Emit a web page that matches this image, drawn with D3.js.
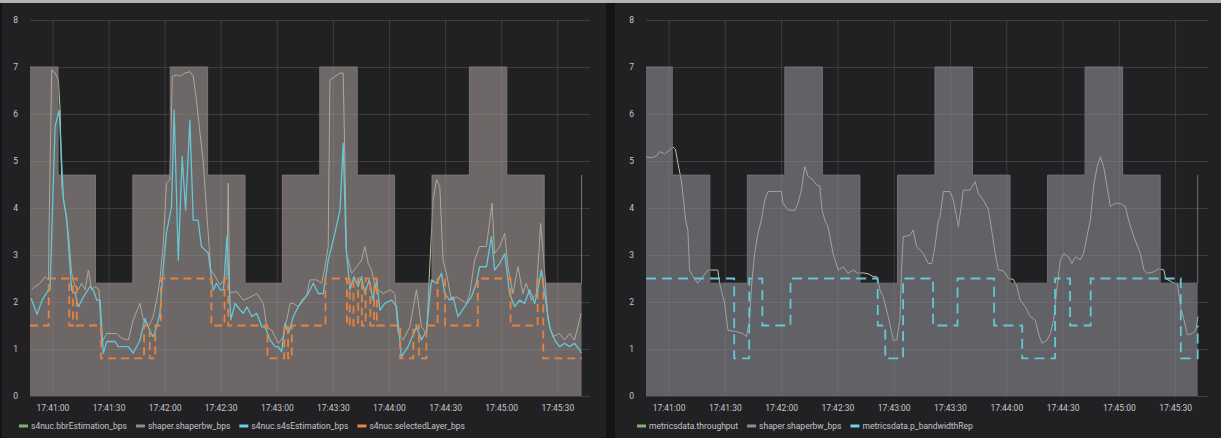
<!DOCTYPE html>
<html>
<head>
<meta charset="utf-8">
<script src="https://cdn.jsdelivr.net/npm/d3@7"></script>
<style>
body { margin: 0; background: #141416; }
svg text { font-family: Roboto, "DejaVu Sans", sans-serif; }
</style>
</head>
<body>
<svg id="chart"></svg>
<script>
// times are seconds after 17:41:00
var tickLabels = ["17:41:00", "17:41:30", "17:42:00", "17:42:30", "17:43:00",
                  "17:43:30", "17:44:00", "17:44:30", "17:45:00", "17:45:30"];
var yTicks = [0, 1, 2, 3, 4, 5, 6, 7, 8];

// left panel
var shaperLeftT = [-12, 3, 23, 43, 63, 83, 103, 123, 143, 163, 183, 203, 223, 243, 263, 283];
var shaperLeftV = [7, 4.7, 2.4, 4.7, 7, 4.7, 2.4, 4.7, 7, 4.7, 2.4, 4.7, 7, 4.7, 2.4, 4.7];

var bbrT = [-11.1,-9.2,-6.6,-3.9,-2.1,-1.8,-0.4,1.4,3.2,4.1,
    5.0,6.8,8.5,10.3,12.1,13.9,15.6,17.5,19.2,21.0,
    22.8,24.9,26.3,29.0,31.7,34.3,37.0,40.6,43.2,46.8,
    48.6,51.3,53.9,55.7,57.5,59.3,61.0,62.8,64.1,66.4,
    68.2,70.8,73.5,75.3,77.0,78.9,80.6,82.4,84.7,86.1,
    89.7,93.3,94.0,94.8,98.6,102.1,105.7,109.3,112.8,114.6,
    117.3,120.8,123.5,127.1,128.8,131.5,133.3,136.0,137.7,141.3,
    144.0,145.8,147.5,148.4,151.1,153.8,155.5,156.4,157.3,160.0,
    162.7,165.3,167.1,168.9,170.7,172.4,174.2,176.9,180.5,183.1,
    184.9,187.6,191.1,194.7,197.4,200.1,201.8,203.6,205.4,207.2,
    208.9,210.7,213.4,216.1,218.7,221.4,223.2,225.8,228.5,232.1,
    235.1,236.5,239.2,241.9,243.6,246.3,249.0,251.6,253.4,256.1,
    258.8,261.1,262.8,265.0,267.6,271.2,273.9,276.6,279.2,281.0,
    282.8];
var bbrV = [2.26,2.33,2.40,2.54,2.47,3.60,6.94,6.87,6.72,6.09,
    4.45,3.96,3.46,2.61,2.33,2.26,2.40,2.26,2.68,2.26,
    2.33,2.26,1.12,1.33,1.33,1.33,1.23,1.19,1.62,1.97,
    1.62,1.47,1.69,2.04,2.47,3.25,4.53,4.60,6.80,6.83,
    6.80,6.87,6.90,6.80,6.30,5.60,5.02,3.96,2.68,2.61,
    2.36,2.54,4.53,2.20,2.22,2.04,2.10,2.18,1.97,1.47,
    1.40,1.12,1.26,1.97,1.97,1.90,2.04,2.15,2.47,2.47,
    2.40,2.75,3.18,6.72,6.80,6.87,6.87,5.02,3.03,2.61,
    2.75,2.89,3.18,2.82,2.68,2.33,2.26,2.18,2.26,2.18,
    1.33,1.19,1.47,2.26,1.47,1.33,2.75,4.17,4.60,4.45,
    2.89,2.61,2.04,2.11,2.04,1.97,2.18,2.89,3.18,3.18,
    4.10,3.03,3.18,3.46,2.75,2.18,2.75,2.18,2.40,2.04,
    2.18,3.67,2.89,1.62,1.26,1.33,1.19,1.33,1.19,1.47,
    1.76];

var s4sT = [-11.4,-8.2,-5.5,-2.1,-1.3,1.4,3.6,5.9,7.6,9.5,
    10.3,12.1,13.9,16.6,20.1,21.9,23.7,25.5,27.2,29.0,
    33.5,35.2,40.6,43.2,46.8,49.5,52.2,53.9,55.7,57.5,
    59.3,61.0,63.7,65.1,67.3,69.4,71.2,73.5,75.3,77.9,
    79.7,83.3,86.0,87.7,89.7,91.5,93.3,95.4,97.7,100.4,
    102.1,104.0,106.6,109.3,112.0,113.7,116.4,119.1,120.8,122.6,
    124.4,126.2,128.8,131.5,134.2,136.8,139.5,142.2,144.8,147.5,
    151.1,153.8,155.5,157.0,159.1,161.2,163.5,165.3,167.1,169.4,
    171.5,173.4,175.1,177.8,181.4,184.0,185.8,186.7,190.2,194.7,
    197.4,200.1,202.7,205.4,208.1,209.8,212.5,214.3,216.9,220.5,
    224.1,226.7,228.5,232.1,234.8,236.5,239.2,241.9,244.5,247.2,
    249.9,252.5,255.2,257.9,259.6,261.5,263.2,265.9,268.6,271.2,
    273.9,276.6,279.2,281.9,282.8];
var s4sV = [2.08,1.74,2.04,2.26,2.26,5.73,6.08,4.17,3.80,2.68,
    2.25,2.19,1.90,2.11,2.33,2.25,2.04,2.04,0.91,1.16,
    1.16,1.05,1.05,0.91,1.19,1.65,1.37,1.26,1.47,1.76,
    2.75,3.47,4.03,6.08,2.89,5.09,3.96,5.87,3.74,3.74,
    3.18,3.04,2.25,2.40,2.26,2.26,3.39,1.62,1.97,1.83,
    1.76,1.90,1.69,1.76,1.47,1.47,1.19,1.05,1.05,0.94,
    1.55,1.33,1.69,1.90,2.04,2.18,2.40,2.18,2.18,2.89,
    3.47,3.96,5.38,3.18,2.26,2.54,2.33,2.54,2.18,2.47,
    2.04,2.47,1.83,1.97,2.04,1.90,1.19,0.84,1.05,1.47,
    1.19,1.40,2.47,2.40,2.61,2.18,2.04,2.11,1.69,1.90,
    2.11,2.40,2.75,2.75,3.39,2.68,2.82,3.03,2.18,1.90,
    2.04,1.97,2.26,1.97,2.26,2.68,2.18,1.47,1.19,1.05,
    1.12,1.05,1.12,0.98,0.91];

var layerT = [-12,-2,9,11,13,26,49,52,55,58,85,92,94,115,124,126,128,146,157.5,159,
    161,163.5,165.5,167.5,170,172,173.5,186,193,196,200,206,210,227.5,245,259.5,262.5,283];
var layerV = [1.5,2.5,1.5,2.5,1.5,0.8,1.5,0.8,1.5,2.5,1.5,2.5,1.5,0.8,1.5,0.8,1.5,2.5,1.5,2.5,
    1.5,2.5,1.5,2.5,1.5,2.5,1.5,0.8,1.5,0.8,1.5,2.5,1.5,2.5,1.5,2.5,0.8,0.8];

// right panel
var shaperRightT = [-12, 2, 22, 42, 62, 82, 102, 122, 142, 162, 182, 202, 222, 242, 262, 282];
var shaperRightV = [7, 4.7, 2.4, 4.7, 7, 4.7, 2.4, 4.7, 7, 4.7, 2.4, 4.7, 7, 4.7, 2.4, 4.7];

var throughputT = [-12,-9.2,-6.6,-4.8,-2.1,0.5,2.3,3.7,5.0,6.8,
    8.0,9.1,10.3,11.2,13.0,15.6,18.3,21.0,26.3,27.2,
    29.9,31.7,36.1,39.7,41.5,43.2,44.2,45.9,47.7,49.5,
    51.3,53.0,57.5,60.2,61.0,63.7,67.3,69.0,70.8,72.6,
    74.4,77.0,78.9,80.6,81.8,83.3,85.0,87.7,90.4,93.1,
    95.7,98.4,101.1,103.7,106.4,109.1,110.9,112.7,114.4,117.1,
    119.8,121.6,123.3,124.2,125.1,128.7,130.4,132.2,135.8,138.4,
    140.3,142.0,143.8,144.7,146.5,150.0,151.8,154.5,157.1,160.7,
    163.4,165.1,167.8,170.5,171.4,174.1,175.8,178.5,181.2,183.8,
    185.7,187.4,190.1,192.8,195.4,197.2,199.0,201.7,203.5,205.2,
    207.1,208.8,210.5,213.2,215.0,216.8,219.4,221.2,223.0,224.8,
    226.5,228.4,230.1,231.9,233.7,235.5,238.1,240.8,243.5,245.2,
    247.9,251.5,253.3,255.1,258.6,261.3,264.0,264.9,269.4,271.2,
    272.9,274.7,276.5,279.2,280.9,282.2];
var throughputV = [5.09,5.07,5.10,5.20,5.15,5.23,5.30,5.25,4.95,4.60,
    4.17,3.74,3.53,2.68,2.54,2.40,2.54,2.68,2.68,2.40,
    1.97,1.40,1.37,1.33,1.26,1.62,2.33,3.03,3.46,3.74,
    4.17,4.35,4.35,4.35,4.10,3.96,3.95,4.10,4.38,4.88,
    4.67,4.60,4.49,4.47,3.96,3.74,3.60,3.03,2.68,2.75,
    2.61,2.68,2.61,2.62,2.60,2.54,2.54,2.26,2.11,1.69,
    1.19,1.19,1.62,2.68,3.39,3.42,3.53,3.18,3.03,2.82,
    2.82,3.18,3.74,3.81,4.35,4.35,4.17,3.60,4.38,4.38,
    4.56,4.31,4.17,3.96,3.74,3.03,2.68,2.66,2.50,2.48,
    2.33,2.04,1.90,1.69,1.62,1.33,1.12,1.19,1.33,1.62,
    2.33,2.89,3.03,2.96,2.82,2.96,2.90,3.03,3.39,3.74,
    4.45,4.88,5.09,4.88,4.45,4.03,4.10,4.10,4.03,3.74,
    3.39,3.03,2.68,2.61,2.64,2.71,2.68,2.50,2.40,2.38,
    1.90,1.62,1.30,1.33,1.40,1.69];

var bwRepT = [-12,35,43,50,65,111.5,115.5,125,141,154,173.5,188.5,206,214,225,273,282];
var bwRepV = [2.5,0.8,2.5,1.5,2.5,1.5,0.8,2.5,1.5,2.5,1.5,0.8,2.5,1.5,2.5,0.8,1.5];

var leftLegend = ["s4nuc.bbrEstimation_bps", "shaper.shaperbw_bps", "s4nuc.s4sEstimation_bps", "s4nuc.selectedLayer_bps"];
var rightLegend = ["metricsdata.throughput", "shaper.shaperbw_bps", "metricsdata.p_bandwidthRep"];

var W = 1221, H = 438;
var green = "#7eb26d", cyan = "#6ed0e0", orange = "#ef843c", grey = "#8e8e8e";

var parseTime = d3.timeParse("%H:%M:%S");
var base = parseTime("17:41:00");
function at(s) { return new Date(base.getTime() + s * 1000); }
function pts(T, V) { return T.map(function (t, i) { return [at(t), V[i]]; }); }

var svg = d3.select("#chart").attr("width", W).attr("height", H);
svg.append("rect").attr("width", W).attr("height", H).attr("fill", "#141416");
svg.append("rect").attr("width", W).attr("height", 3).attr("fill", "#b3b3b5");

function drawPanel(p) {
    var g = svg.append("g");
    g.append("rect")
        .attr("x", p.left).attr("y", 3)
        .attr("width", p.right - p.left).attr("height", H - 3)
        .attr("fill", "#212124");

    var x = d3.scaleTime().domain([at(-12), at(287.5)]).range([p.x0, p.x1]);
    var y = d3.scaleLinear().domain([0, 8]).range([396, 20]);

    var xAxis = g.append("g")
        .attr("transform", "translate(0,396)")
        .call(d3.axisBottom(x)
            .tickValues(tickLabels.map(parseTime))
            .tickFormat(d3.timeFormat("%H:%M:%S"))
            .tickSize(-376).tickPadding(8.5));
    var yAxis = g.append("g")
        .attr("transform", "translate(" + p.x0 + ",0)")
        .call(d3.axisLeft(y).tickValues(yTicks).tickSize(-(p.x1 - p.x0)).tickPadding(12));

    [xAxis, yAxis].forEach(function (a) {
        a.select(".domain").remove();
        a.selectAll("line").attr("stroke", "rgba(255,255,255,0.12)");
        a.selectAll("text").attr("fill", "#c6c7c9").style("font-size", "8.5px");
    });

    var clipId = "clip" + p.x0;
    g.append("clipPath").attr("id", clipId)
        .append("rect").attr("x", p.x0).attr("y", 0).attr("width", p.x1 - p.x0).attr("height", 397);
    var plot = g.append("g").attr("clip-path", "url(#" + clipId + ")");

    var line = d3.line().x(function (d) { return x(d[0]); }).y(function (d) { return y(d[1]); });
    var stepLine = d3.line().curve(d3.curveStepAfter)
        .x(function (d) { return x(d[0]); }).y(function (d) { return y(d[1]); });
    var stepArea = d3.area().curve(d3.curveStepAfter)
        .x(function (d) { return x(d[0]); }).y0(y(0)).y1(function (d) { return y(d[1]); });

    // estimate line sits under the shaper fill, which washes it out
    plot.append("path").datum(pts(p.estT, p.estV))
        .attr("d", line).attr("fill", "none")
        .attr("stroke", "#bcc6a8").attr("stroke-width", 1);

    plot.append("path").datum(pts(p.shaperT, p.shaperV))
        .attr("d", stepArea).attr("fill", p.fill);
    plot.append("path").datum(pts(p.shaperT, p.shaperV))
        .attr("d", stepLine).attr("fill", "none")
        .attr("stroke", p.shaperStroke).attr("stroke-width", 1);

    if (p.s4sT) {
        plot.append("path").datum(pts(p.s4sT, p.s4sV))
            .attr("d", line).attr("fill", "none")
            .attr("stroke", "#66c6d6").attr("stroke-width", 1.3)
            .attr("stroke-linejoin", "round");
    }
    plot.append("path").datum(pts(p.dashT, p.dashV))
        .attr("d", stepLine).attr("fill", "none")
        .attr("stroke", p.dashColor).attr("stroke-width", 1.8)
        .attr("stroke-dasharray", p.dash);

    // legend
    var lg = g.append("g").attr("transform", "translate(" + p.legendX + ",426)");
    var cx = 0;
    p.legend.forEach(function (name, i) {
        lg.append("rect").attr("x", cx).attr("y", -1.5)
            .attr("width", 9).attr("height", 3).attr("fill", p.legendColors[i]);
        var t = lg.append("text").attr("x", cx + 12).attr("y", 3)
            .attr("fill", "#c4c4c6").style("font-size", "8.5px").text(name);
        cx += 12 + t.node().getComputedTextLength() + 9;
    });
}

drawPanel({
    left: 2, right: 606, x0: 30, x1: 590,
    estT: bbrT, estV: bbrV,
    shaperT: shaperLeftT, shaperV: shaperLeftV,
    fill: "rgba(160,150,148,0.6)", shaperStroke: "#7a7574",
    s4sT: s4sT, s4sV: s4sV,
    dashT: layerT, dashV: layerV, dashColor: "#e8833e", dash: "8,5",
    legend: leftLegend, legendColors: [green, grey, cyan, orange], legendX: 19
});

drawPanel({
    left: 615, right: W, x0: 646, x1: 1208,
    estT: throughputT, estV: throughputV,
    shaperT: shaperRightT, shaperV: shaperRightV,
    fill: "rgba(140,140,146,0.6)", shaperStroke: "#707074",
    dashT: bwRepT, dashV: bwRepV, dashColor: "#66c6d6", dash: "10,6",
    legend: rightLegend, legendColors: [green, grey, cyan], legendX: 637
});
</script>
</body>
</html>
